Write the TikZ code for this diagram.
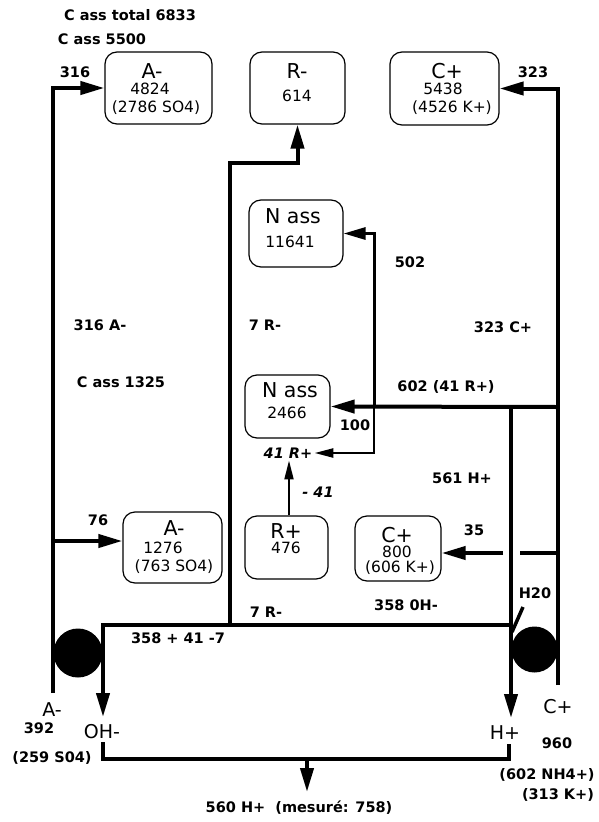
\documentclass[tikz,border=0pt]{standalone}
\usepackage{fontspec}
\setmainfont{DejaVu Sans}
\usetikzlibrary{arrows.meta}
\begin{document}
\begin{tikzpicture}[x=1pt,y=-1pt,
  lbl/.style={font=\fontsize{14.5}{16}\selectfont\bfseries, inner sep=0pt},
  ilbl/.style={font=\fontsize{14.5}{16}\selectfont\bfseries\itshape, inner sep=0pt},
  reg/.style={font=\fontsize{19}{20}\selectfont, inner sep=0pt},
  ttl/.style={font=\fontsize{20.5}{22}\selectfont, inner sep=0pt},
  num/.style={font=\fontsize{15.5}{17}\selectfont, inner sep=0pt},
  box/.style={draw, line width=1.2pt, rounded corners=12pt, inner sep=0pt},
  flow/.style={line width=4pt, -{Triangle[length=24pt,width=13pt]}},
  midflow/.style={line width=3pt, -{Triangle[length=22pt,width=12pt]}},
  smallflow/.style={line width=2.5pt, -{Triangle[length=19pt,width=9pt]}},
  heavy/.style={line width=4pt},
  loopline/.style={line width=3.5pt},
  pump/.style={circle, fill=black, inner sep=0pt}
]
\useasboundingbox (0,0) rectangle (599,822);

% ---------- boxes ----------
\node[box, minimum width=107pt, minimum height=72pt] (A1) at (158.5,88) {};
\node[box, minimum width=95pt,  minimum height=72pt] (R1) at (297.5,88) {};
\node[box, minimum width=109pt, minimum height=73pt] (C1) at (444.5,88.5) {};
\node[box, minimum width=94pt,  minimum height=67pt] (N1) at (296,233.5) {};
\node[box, minimum width=85pt,  minimum height=63pt] (N2) at (287.5,406.5) {};
\node[box, minimum width=99pt,  minimum height=71pt] (A2) at (172.5,547.5) {};
\node[box, minimum width=83pt,  minimum height=63pt] (R2) at (286.5,547.5) {};
\node[box, minimum width=86pt,  minimum height=65pt] (C2) at (398,548.5) {};

% ---------- box texts ----------
\node[ttl] (A1a) at (152,71) {A-};
\node[num] (A1b) at (150,89) {4824};
\node[num] (A1c) at (156,108) {(2786 SO4)};
\node[ttl] (R1a) at (297,71) {R-};
\node[num] (R1b) at (297,96) {614};
\node[ttl] (C1a) at (447,71) {C+};
\node[num] (C1b) at (443,89) {5438};
\node[num] (C1c) at (452,108) {(4526 K+)};
\node[ttl] (N1a) at (293,216) {N ass};
\node[num] (N1b) at (290,242) {11641};
\node[ttl] (N2a) at (290,390) {N ass};
\node[num] (N2b) at (287,413) {2466};
\node[ttl] (A2a) at (174,528) {A-};
\node[num] (A2b) at (163,548) {1276};
\node[num] (A2c) at (174,567) {(763 SO4)};
\node[ttl] (R2a) at (286,531) {R+};
\node[num] (R2b) at (286,548) {476};
\node[ttl] (C2a) at (397,535) {C+};
\node[num] (C2b) at (397,552) {800};
\node[num] (C2c) at (400,568) {(606 K+)};

% ---------- labels ----------
\node[lbl] (t1) at (130,15) {C ass total 6833};
\node[lbl] (t2) at (102,39) {C ass 5500};
\node[lbl] (t316) at (75,72) {316};
\node[lbl] (t323) at (533,72) {323};
\node[lbl] (t502) at (410,262) {502};
\node[lbl] (t316A) at (100,325) {316 A-};
\node[lbl] (t7Ra) at (265,325) {7 R-};
\node[lbl] (t323C) at (503,327) {323 C+};
\node[lbl] (tC1325) at (121,382) {C ass 1325};
\node[lbl] (t602) at (446,387) {602 (41 R+)};
\node[lbl] (t100) at (355,425) {100};
\node[ilbl, inner sep=2pt] (L41) at (288,453) {41 R+};
\node[lbl] (t561) at (462,478) {561 H+};
\node[ilbl] (tm41) at (318,492) {- 41};
\node[lbl] (t76) at (98,520) {76};
\node[lbl] (t35) at (474,530) {35};
\node[lbl] (tH2O) at (535,593) {H20};
\node[lbl] (t358OH) at (406,605) {358 0H-};
\node[lbl] (t7Rb) at (266,612) {7 R-};
\node[lbl] (t358) at (178,638) {358 + 41 -7};
\node[reg] (bA) at (52,710) {A-};
\node[lbl] (b392) at (39,728) {392};
\node[reg] (OH) at (102,732) {OH-};
\node[lbl] (b259) at (52,758) {(259 S04)};
\node[reg] (bC) at (558,707) {C+};
\node[reg] (Hp) at (505,733) {H+};
\node[lbl] (b960) at (557,743) {960};
\node[lbl] (b602) at (547,775) {(602 NH4+)};
\node[lbl] (b313) at (558,795) {(313 K+)};
\node[lbl] (L560) at (299,808) {560 H+\ \ (mesuré: 758)};

% ---------- pumps ----------
\node[pump, minimum size=49pt] (cl) at (78,653) {};
\node[pump, minimum size=46pt] (cr) at (534.5,649.5) {};

% ---------- coordinates ----------
\coordinate (lbot) at (53,693);
\coordinate (A2in) at ([yshift=6.5pt]A2.west);
\coordinate (rbot) at (558,685);
\coordinate (j230) at (230,625);
\coordinate (k230) at (230,163);
\coordinate (j602) at (558,407);
\coordinate (j374) at (374,407);
\coordinate (j511) at (511,407);
\coordinate (Htip) at (511,718);
\coordinate (j625) at (511,625);
\coordinate (OHtip) at (103,717);
\coordinate (c35a) at (558,553);
\coordinate (c35b) at (520,553);
\coordinate (c35c) at (503,553);
\coordinate (h2oa) at (523,607);
\coordinate (h2ob) at (512,632);
\coordinate (Hbot) at (509,744);
\coordinate (hb) at (509,759);
\coordinate (ob) at (103,759);
\coordinate (OHbot) at (103,742);
\coordinate (m560) at (307,759);
\coordinate (t560) at (307,792);

% ---------- connectors ----------
\draw[flow] (lbot) |- (A1.west);
\draw[flow] (lbot |- A2in) -- (A2in);
\draw[flow] (j230) -- (k230) -| (R1.south);
\draw[flow] (rbot) |- (C1.east);
\draw[flow] (j602) -- (N2.east);
\draw[midflow] (j374) |- (N1.east);
\draw[smallflow] (j374) |- (L41.east);
\draw[smallflow, line width=2pt] ([xshift=2.5pt]R2.north) -- ([xshift=2.5pt]R2.north |- L41.south);
\draw[flow] (j511) -- (Htip);
\draw[flow] (j625) -| (OHtip);
\draw[heavy] (c35a) -- (c35b);
\draw[flow] (c35c) -- (C2.east |- c35c);
\draw[line width=3.5pt] (h2oa) -- (h2ob);
\draw[loopline] (Hbot) -- (hb) -- (ob) -- (OHbot);
\draw[flow] (m560) -- (t560);
\end{tikzpicture}
\end{document}
